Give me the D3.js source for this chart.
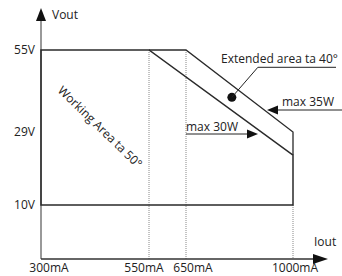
<!DOCTYPE html>
<html>
<head>
<meta charset="utf-8">
<script src="https://cdn.jsdelivr.net/npm/d3@7"></script>
<style>
  body { margin: 0; background: #fff; }
  text { font-family: "Open Sans", sans-serif; font-size: 12px; fill: #222; }
</style>
</head>
<body>
<svg id="chart" width="342" height="276"></svg>
<script>
// tick values and labels
var currents = [300, 550, 650, 1000];
var currentLabels = ["300mA", "550mA", "650mA", "1000mA"];
var voltages = [10, 29, 55];
var voltLabels = ["10V", "29V", "55V"];

// boundaries [mA, V]
var workingArea = [[300, 55], [550, 55], [1000, 23], [1000, 10], [300, 10]];
var extendedArea = [[550, 55], [650, 55], [1000, 29], [1000, 23]];
var extendedDot = [800, 40];

var svg = d3.select("#chart");

// the picture is schematic, so the scales are piecewise
var x = d3.scaleLinear().domain([300, 550, 650, 1000]).range([41, 149, 186, 293]);
var y = d3.scaleLinear().domain([0, 10, 29, 55]).range([259, 205, 132, 50]);

var line = d3.line()
    .x(function(d) { return x(d[0]); })
    .y(function(d) { return y(d[1]); });

// dotted guides
svg.append("g")
    .selectAll("line")
    .data(currents.slice(1))
    .enter()
    .append("line")
    .attr("x1", function(d) { return x(d); })
    .attr("x2", function(d) { return x(d); })
    .attr("y1", function(d) { return d == 1000 ? y(10) : y(55); })
    .attr("y2", y(0))
    .attr("stroke", "#888")
    .attr("stroke-width", 1)
    .attr("stroke-dasharray", "1,1");

// axes with arrows
svg.append("line")
    .attr("x1", x(300)).attr("x2", x(300))
    .attr("y1", y(0)).attr("y2", 18)
    .attr("stroke", "#777").attr("stroke-width", 1.5);
svg.append("line")
    .attr("x1", x(300)).attr("x2", 318)
    .attr("y1", y(0)).attr("y2", y(0))
    .attr("stroke", "#333").attr("stroke-width", 1.5);
svg.append("path")
    .attr("d", "M" + x(300) + ",8 L" + (x(300) - 5) + ",21 L" + (x(300) + 5) + ",21 Z")
    .attr("fill", "#111");
svg.append("path")
    .attr("d", "M328," + y(0) + " L313," + (y(0) - 5) + " L313," + (y(0) + 5) + " Z")
    .attr("fill", "#111");

// areas
svg.append("path")
    .attr("d", line(workingArea) + "Z")
    .attr("fill", "none")
    .attr("stroke", "#2a2a2a")
    .attr("stroke-width", 1.5);
svg.append("path")
    .attr("d", line(extendedArea))
    .attr("fill", "none")
    .attr("stroke", "#2a2a2a")
    .attr("stroke-width", 1.3);

// tick labels
var labelShift = [8, -5, 7, 2];
svg.append("g")
    .selectAll("text")
    .data(currents)
    .enter()
    .append("text")
    .attr("x", function(d, i) { return x(d) + labelShift[i]; })
    .attr("y", 272)
    .attr("text-anchor", "middle")
    .text(function(d, i) { return currentLabels[i]; });

svg.append("g")
    .selectAll("text")
    .data(voltages)
    .enter()
    .append("text")
    .attr("x", 35)
    .attr("y", function(d) { return y(d) + 4; })
    .attr("text-anchor", "end")
    .text(function(d, i) { return voltLabels[i]; });

svg.append("text").attr("x", 52).attr("y", 19).text("Vout");
svg.append("text").attr("x", 314).attr("y", 246).text("Iout");

// working area label
svg.append("text")
    .attr("transform", "translate(100,127) rotate(44)")
    .attr("text-anchor", "middle")
    .attr("dy", "0.35em")
    .text("Working Area ta 50°");

// extended area callout
var dx = x(extendedDot[0]), dy = y(extendedDot[1]);
svg.append("circle")
    .attr("cx", dx).attr("cy", dy).attr("r", 4.5)
    .attr("fill", "#111");
svg.append("polyline")
    .attr("points", [[dx, dy], [dx + 26, dy - 30], [336, dy - 30]].join(" "))
    .attr("fill", "none")
    .attr("stroke", "#222")
    .attr("stroke-width", 1);
svg.append("text")
    .attr("x", 221).attr("y", dy - 34)
    .text("Extended area ta 40°");

// power limit arrows
function limitArrow(x0, x1, yy) {
    var dir = x1 > x0 ? 1 : -1;
    svg.append("line")
        .attr("x1", x0).attr("x2", x1 - dir * 9)
        .attr("y1", yy).attr("y2", yy)
        .attr("stroke", "#222").attr("stroke-width", 1);
    svg.append("path")
        .attr("d", "M" + x1 + "," + yy + " L" + (x1 - dir * 11) + "," + (yy - 4.5) +
              " L" + (x1 - dir * 11) + "," + (yy + 4.5) + " Z")
        .attr("fill", "#111");
}

limitArrow(342, 267, 110);
svg.append("text").attr("x", 282).attr("y", 106).text("max 35W");

limitArrow(x(650), 258, 134);
svg.append("text").attr("x", 186).attr("y", 131).text("max 30W");
</script>
</body>
</html>
